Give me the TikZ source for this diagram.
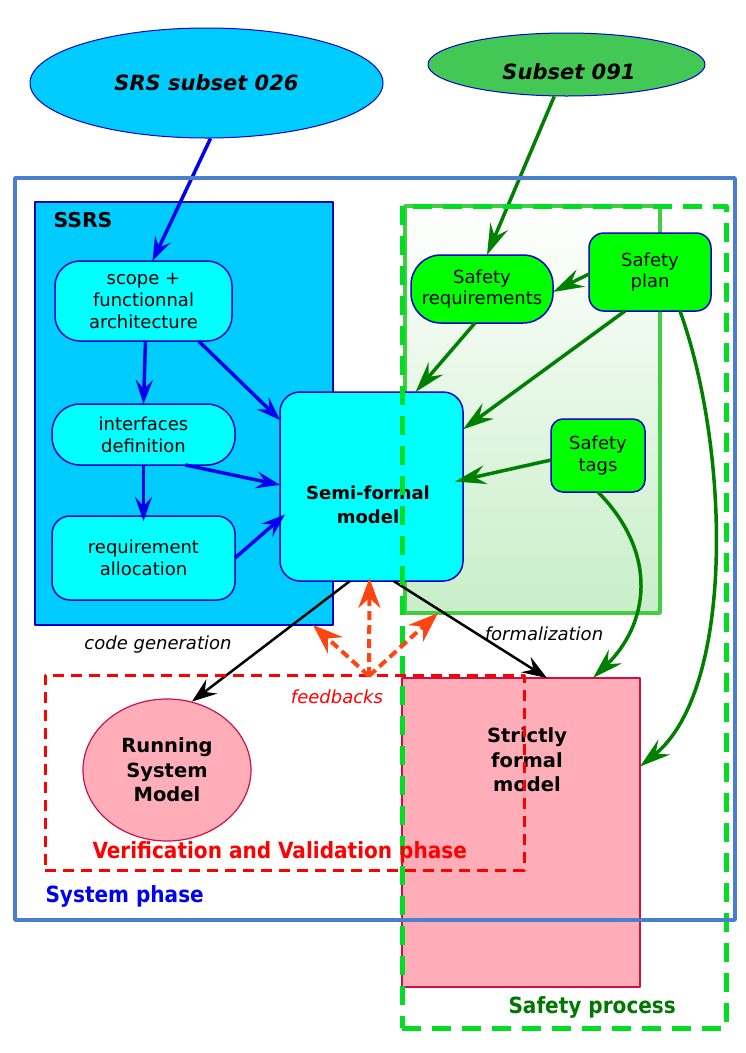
\documentclass[tikz,border=0pt]{standalone}
\usepackage{fontspec}
\setmainfont{DejaVu Sans}
\newfontfamily\condfont{DejaVu Sans Condensed}
\usetikzlibrary{arrows.meta,positioning,calc,shapes.geometric,backgrounds}
\definecolor{srsColor}{HTML}{00CCFF}
\definecolor{boxColor}{HTML}{00FFFF}
\definecolor{lineColor}{HTML}{0000CC}
\definecolor{subColor}{HTML}{44C855}
\definecolor{safeColor}{HTML}{00FF00}
\definecolor{gradColor}{HTML}{C8EEC8}
\definecolor{gradLine}{HTML}{44CC44}
\definecolor{dashGreen}{HTML}{00DD22}
\definecolor{arrGreen}{HTML}{008000}
\definecolor{arrBlue}{HTML}{0000EE}
\definecolor{sysColor}{HTML}{4A7FD0}
\definecolor{pinkColor}{HTML}{FFAEB9}
\definecolor{pinkLine}{HTML}{CC1144}
\definecolor{fbColor}{HTML}{FF4411}
\definecolor{procColor}{HTML}{007700}
\tikzset{
	frame/.style={rectangle,inner sep=0,outer sep=0},
	rbox/.style={draw=lineColor,line width=1.5pt,rounded corners=#1,align=center,
		inner sep=0,outer sep=0},
	cyanbox/.style={rbox=#1,fill=boxColor},
	greenbox/.style={rbox=#1,fill=safeColor},
	blueArr/.style={-{Stealth[length=24pt,width=17pt,inset=9pt]},draw=arrBlue,line width=3.5pt},
	greenArr/.style={-{Stealth[length=31pt,width=19pt,inset=11pt]},draw=arrGreen,line width=3.5pt},
	blackArr/.style={-{Stealth[length=25pt,width=18pt,inset=9pt]},draw=black,line width=2.5pt},
	fbArr/.style={-{Stealth[length=30pt,width=22pt,inset=10pt]},draw=fbColor,line width=4pt,
		dash pattern=on 9pt off 5pt},
	bigLbl/.style={font=\fontsize{19.5}{24.5}\selectfont\bfseries,align=center},
	condLbl/.style={font=\fontsize{22.3}{26}\condfont\bfseries,anchor=west},
	srcLbl/.style={font=\fontsize{21}{25}\selectfont\bfseries\itshape}
}

\begin{document}
\begin{tikzpicture}[x=1pt,y=-1pt,line join=round,
every node/.style={font=\fontsize{18}{21.7}\selectfont}]
\useasboundingbox (0,0) rectangle (745,1053);
% boxes behind
\node[frame,draw=lineColor,fill=srsColor,line width=2pt,minimum width=298pt,minimum height=423pt] (ssrs) at (184,413.5) {};
\node[frame,draw=gradLine,top color=white,middle color=gradColor!75!white,bottom color=gradColor,line width=3.5pt,minimum width=255pt,minimum height=407pt] (sgrad) at (532.5,409.5) {};
\node[frame,draw=pinkLine,fill=pinkColor,line width=1.2pt,minimum width=238pt,minimum height=309pt] (strict) at (521,832.5) {};
\node[bigLbl] (strictlbl) at (527,760) {Strictly\\formal\\model};
\node[ellipse,draw=pinkLine,fill=pinkColor,line width=1.2pt,minimum width=168pt,minimum height=142pt,inner sep=0,bigLbl] (run) at (167,770) {Running\\System\\Model};
% sources
\node[ellipse,draw=lineColor,fill=srsColor,line width=1pt,minimum width=353pt,minimum height=110pt,srcLbl] (srs) at (206.5,83) {SRS subset 026};
\node[ellipse,draw=lineColor,fill=subColor,line width=1pt,minimum width=277pt,minimum height=63pt] (sub) at (566.5,64.5) {};
\node[srcLbl] (sublbl) at (569,72) {Subset 091};
% SSRS part
\node[anchor=west,font=\fontsize{20.4}{24}\selectfont\bfseries] (ssrslbl) at (50,220) {SSRS};
\node[cyanbox=25pt,minimum width=177pt,minimum height=80pt] (scope) at (143.5,301) {scope +\\functionnal\\architecture};
\node[cyanbox=28pt,minimum width=183pt,minimum height=61pt] (iface) at (143.5,434.5) {interfaces\\definition};
\node[cyanbox=18pt,minimum width=183pt,minimum height=84pt] (alloc) at (143.5,558) {requirement\\allocation};
\node[cyanbox=20pt,minimum width=183pt,minimum height=189pt] (semi) at (371.5,486.5) {};
\node[font=\fontsize{18}{24}\selectfont\bfseries,align=center] (semilbl) at (368,505) {Semi-formal\\model};
% safety part
\node[greenbox=30pt,minimum width=142pt,minimum height=68pt] (sreq) at (482,289) {Safety\\requirements};
\node[greenbox=15pt,minimum width=122pt,minimum height=78pt] (splan) at (650,272) {Safety\\plan};
\node[greenbox=12pt,minimum width=94pt,minimum height=73pt] (stags) at (598,455.5) {Safety\\tags};

\path[blueArr] ([xshift=4pt]srs.south) -- ([xshift=9pt]scope.north);
\path[blueArr] ([xshift=2pt]scope.south) -- (iface.north);
\path[blueArr] (scope.-36) -- (semi.144);
\path[blueArr] (iface.-36) -- (semi.179);
\path[blueArr] (iface.south) -- ([yshift=-5pt]alloc.north);
\path[blueArr] (alloc.east) -- ([xshift=5pt]semi.197);

\path[greenArr] (sub.-111) -- ([xshift=5pt]sreq.north);
\path[greenArr] ([yshift=-2pt]splan.west) -- ([yshift=-3pt]sreq.east);
\path[greenArr] ([xshift=-7pt]sreq.south) -- (semi.65);
\path[greenArr] ([xshift=-25pt]splan.south) -- (semi.32);
\path[greenArr] ([yshift=-4.5pt]stags.west) -- ([xshift=-8pt,yshift=5pt]semi.east);
\path[greenArr] (stags.south) .. controls (660,555) and (648,625) .. ([xshift=72pt]strict.north);
\path[greenArr] ([xshift=30pt]splan.south) .. controls (730,450) and (735,690) .. ([yshift=66pt]strict.east);

\path[blackArr] ([xshift=-21.5pt]semi.south) -- (run.70);
\path[blackArr] ([xshift=22pt]semi.south) -- ([xshift=26pt]strict.north);
\node[font=\fontsize{18}{22}\selectfont\itshape] (codelbl) at (158,645) {code generation};
\node[font=\fontsize{18}{22}\selectfont\itshape] (formlbl) at (544,634) {formalization};

% frames
\node[frame,draw=dashGreen,line width=5pt,dash pattern=on 19pt off 11pt,minimum width=324pt,minimum height=822pt] (safety) at (564,617) {};
\node[frame,draw=red,line width=3pt,dash pattern=on 11pt off 7pt,minimum width=479pt,minimum height=195pt] (vv) at (284.5,772.5) {};
\node[frame,draw=sysColor,line width=3.5pt,minimum width=720pt,minimum height=742pt] (sysph) at (375,549) {};

\coordinate (fb) at (369,676);
\path[fbArr] (fb) -- ([xshift=-2pt,yshift=3pt]semi.south);
\path[fbArr] (fb) -- ([xshift=-20pt]ssrs.south east);
\path[fbArr] (fb) -- ([xshift=33pt]sgrad.south west);
\node[font=\fontsize{18}{22}\selectfont\itshape,text=red] (fblbl) at (337,697) {feedbacks};

\node[condLbl,text=red] (vvlbl) at (89,852) {Verification and Validation phase};
\node[condLbl,text=arrBlue] (syslbl) at (42,896) {System phase};
\node[condLbl,text=procColor] (proclbl) at (505,1007) {Safety process};
\end{tikzpicture}
\end{document}
